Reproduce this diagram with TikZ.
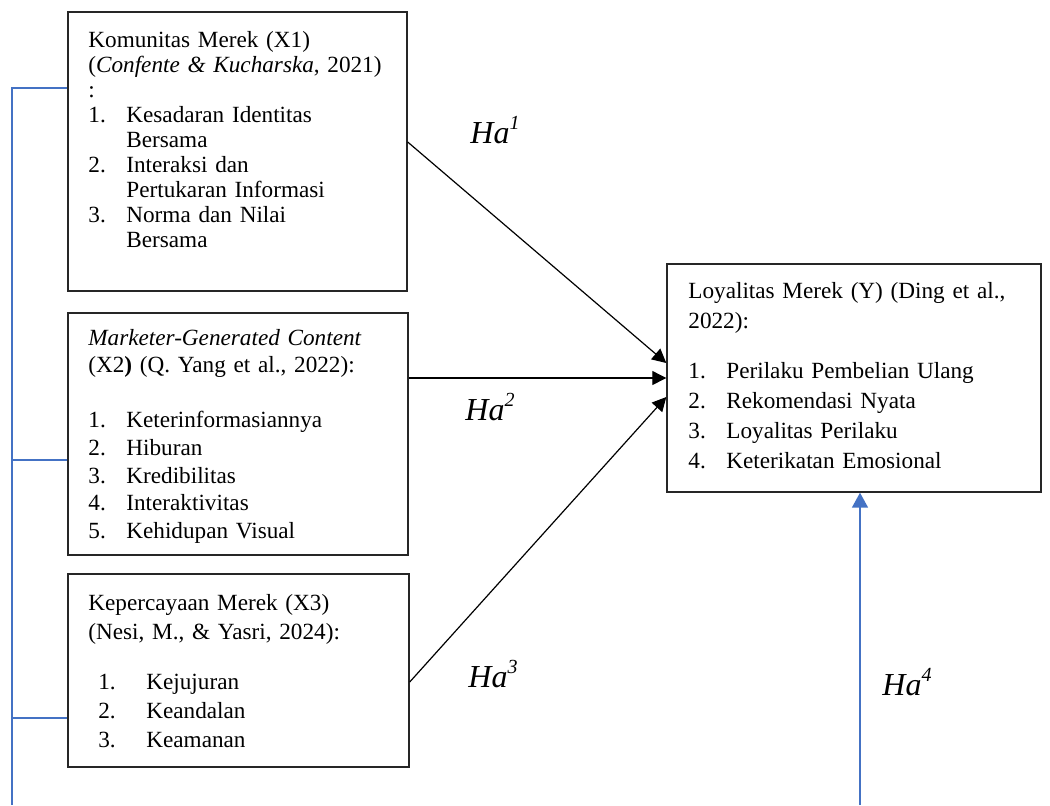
\documentclass[tikz,border=0pt]{standalone}
\usepackage{fontspec}
\setmainfont{Liberation Serif}
\usepackage{xcolor}
\usetikzlibrary{arrows.meta, positioning, fit, calc}

\definecolor{wordblue}{RGB}{68,114,196}
\newcommand{\itm}[2]{\makebox[19pt][l]{#1}#2}
\newcommand{\cont}[1]{\hspace*{19pt}#1}
\newcommand{\hyp}[1]{\textit{Ha}\raisebox{0.42em}{\fontsize{10}{10}\selectfont\textit{#1}}}

\begin{document}
\begin{tikzpicture}[
  x=0.5pt, y=-0.5pt,
  box/.style={draw=black!85, line width=0.7pt, inner sep=0pt},
  txt/.style={anchor=base west, inner sep=0pt, align=left, text width=185pt,
              font=\fontsize{11.6}{#1}\selectfont},
  txt/.default=12.5pt,
  arr/.style={-{Triangle[length=7pt, width=7pt]}, line width=0.6pt},
  bus/.style={wordblue, line width=0.8pt},
  barr/.style={-{Triangle[length=7.5pt, width=8pt]}, wordblue, line width=0.8pt},
  hyp/.style={anchor=base west, inner sep=0pt, font=\fontsize{16}{16}\selectfont},
]
  \path[use as bounding box, fill=white] (0,0) rectangle (1050,805);

  % boxes
  \node[box, fit={(68,12) (407,291)}]   (x1) {};
  \node[box, fit={(68,313) (408,555)}]  (x2) {};
  \node[box, fit={(68,574) (409,767)}]  (x3) {};
  \node[box, fit={(667,264) (1041,492)}] (y) {};

  \node[txt=12.5pt] (x1txt) at (88,47) {Komunitas Merek (X1)\\
    (\textit{Confente \& Kucharska}, 2021)\\
    :\\
    \itm{1.}{Kesadaran Identitas}\\
    \cont{Bersama}\\
    \itm{2.}{Interaksi dan}\\
    \cont{Pertukaran Informasi}\\
    \itm{3.}{Norma dan Nilai}\\
    \cont{Bersama}};
  \node[txt=13.8pt] (x2txt) at (88,345) {\textit{Marketer-Generated Content}\\
    (X2\textbf{)} (Q. Yang et al., 2022):\\[13.8pt]
    \itm{1.}{Keterinformasiannya}\\
    \itm{2.}{Hiburan}\\
    \itm{3.}{Kredibilitas}\\
    \itm{4.}{Interaktivitas}\\
    \itm{5.}{Kehidupan Visual}};
  \node[txt=14.5pt] (x3txt) at (88,610) {Kepercayaan Merek (X3)\\
    (Nesi, M., \& Yasri, 2024):\\[10.5pt]
    \hspace*{5pt}\makebox[24pt][l]{1.}Kejujuran\\
    \hspace*{5pt}\makebox[24pt][l]{2.}Keandalan\\
    \hspace*{5pt}\makebox[24pt][l]{3.}Keamanan};
  \node[txt=15pt] (ytxt) at (688,298) {Loyalitas Merek (Y) (Ding et al.,\\
    2022):\\[10pt]
    \itm{1.}{Perilaku Pembelian Ulang}\\
    \itm{2.}{Rekomendasi Nyata}\\
    \itm{3.}{Loyalitas Perilaku}\\
    \itm{4.}{Keterikatan Emosional}};

  % hypotheses
  \node[hyp] (ha1) at (470,143) {\hyp{1}};
  \node[hyp] (ha2) at (465,420) {\hyp{2}};
  \node[hyp] (ha3) at (468,687) {\hyp{3}};
  \node[hyp] (ha4) at (882,695) {\hyp{4}};

  \draw[arr] ($(x1.east)+(0,-9.5)$) -- ($(y.west)+(0,-15)$);
  \draw[arr] (x2.east |- y.west) -- (y.west);
  \draw[arr] ($(x3.east)+(0,11.5)$) -- ($(y.west)+(0,19)$);

  % blue bracket on the left
  \coordinate (bt) at (12,88);
  \coordinate (b2) at (12,460);
  \coordinate (b3) at (12,718);
  \coordinate (bb) at (12,805);
  \draw[bus] (x1.west |- bt) -- (bt) -- (bb);
  \draw[bus] (b2) -- (x2.west |- b2);
  \draw[bus] (b3) -- (x3.west |- b3);

  \coordinate (h4) at (860,805);
  \draw[barr] (h4) -- (y.south -| h4);
\end{tikzpicture}
\end{document}
